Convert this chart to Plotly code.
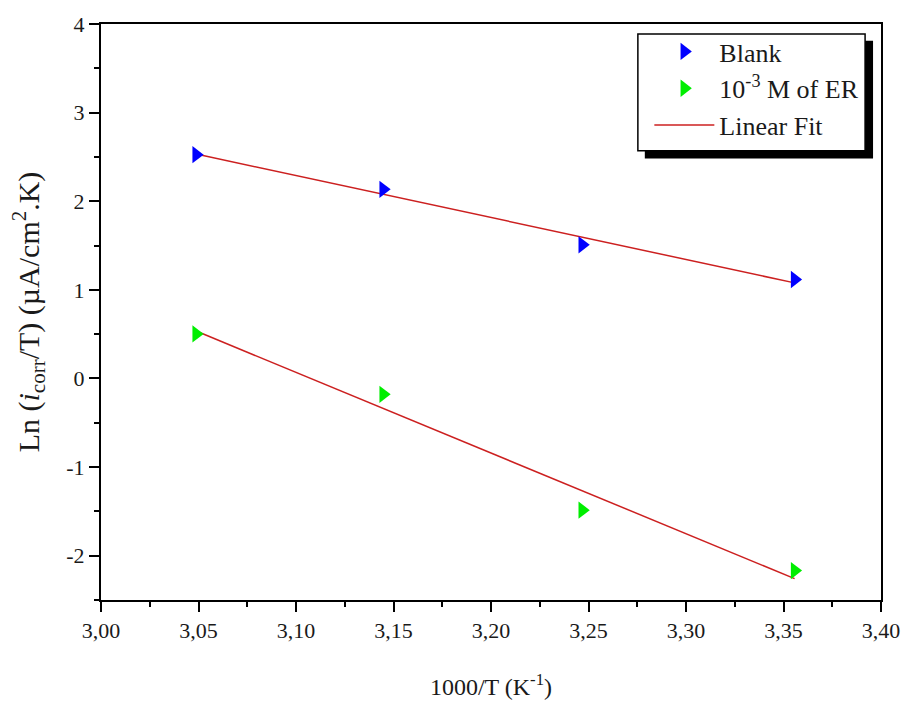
import numpy as np
import plotly.graph_objects as go

# data
x_vals = [3.0488, 3.1447, 3.2468, 3.3557]
blank_y = [2.525, 2.134, 1.508, 1.117]
er_y = [0.503, -0.179, -1.486, -2.168]
names = ["Blank", "10<sup>-3</sup> M of ER", "Linear Fit"]
y_ticks = [-2, -1, 0, 1, 2, 3, 4]
y_tick_text = ["-2", "-1", "0", "1", "2", "3", "4"]

xs = np.array(x_vals)
b_fit = np.polyfit(xs, blank_y, 1)
e_fit = np.polyfit(xs, er_y, 1)
xl = np.array([xs.min(), xs.max()])

FONT = "Liberation Serif"
TXT = "#1a1a1a"
fig = go.Figure()
fig.add_trace(go.Scatter(x=xl, y=np.polyval(b_fit, xl), mode="lines", name=names[2],
                         line=dict(color="#cc2020", width=1.5), legendrank=3))
fig.add_trace(go.Scatter(x=xl, y=np.polyval(e_fit, xl), mode="lines", name=names[2],
                         line=dict(color="#cc2020", width=1.5), showlegend=False))
fig.add_trace(go.Scatter(x=x_vals, y=blank_y, mode="markers", name=names[0],
                         marker=dict(symbol="triangle-right", size=15, color="#0000ff"),
                         legendrank=1))
fig.add_trace(go.Scatter(x=x_vals, y=er_y, mode="markers", name=names[1],
                         marker=dict(symbol="triangle-right", size=15, color="#00ee00"),
                         legendrank=2))

fig.update_xaxes(range=[3.0, 3.4], dtick=0.05, tick0=3.0, tickformat=".2f",
                 showline=True, linecolor="black", linewidth=2, mirror=True,
                 ticks="outside", ticklen=10, tickwidth=2, tickcolor="black",
                 showgrid=False, zeroline=False,
                 tickfont=dict(family=FONT, size=22, color=TXT),
                 minor=dict(dtick=0.025, ticks="outside", ticklen=5, tickwidth=2, tickcolor="black"),
                 title=dict(text="1000/T (K<sup>-1</sup>)", font=dict(family=FONT, size=24, color=TXT), standoff=36))
fig.update_yaxes(range=[-2.5, 4], tickvals=y_ticks, ticktext=y_tick_text,
                 showline=True, linecolor="black", linewidth=2, mirror=True,
                 ticks="outside", ticklen=10, tickwidth=2, tickcolor="black",
                 showgrid=False, zeroline=False,
                 tickfont=dict(family=FONT, size=22, color=TXT),
                 minor=dict(dtick=0.5, ticks="outside", ticklen=5, tickwidth=2, tickcolor="black"),
                 title=dict(text="Ln (<i>i</i><sub>corr</sub>/T) (µA/cm<sup>2</sup>.K)",
                            font=dict(family=FONT, size=30, color=TXT), standoff=18))

fig.update_layout(
    width=912, height=715, separators=",.",
    margin=dict(l=101, r=25, t=18, b=115),
    plot_bgcolor="white", paper_bgcolor="white",
    legend=dict(x=0.703, y=0.993, xanchor="left", yanchor="top",
                bgcolor="rgba(0,0,0,0)", borderwidth=0,
                font=dict(family=FONT, size=26, color=TXT), itemwidth=60,
                traceorder="normal"),
    shapes=[
        dict(type="rect", xref="paper", yref="paper", x0=0.6972, x1=0.9898, y0=0.7663, y1=0.9708,
             fillcolor="black", line=dict(width=0)),
        dict(type="rect", xref="paper", yref="paper", x0=0.6883, x1=0.9796, y0=0.7801, y1=0.9828,
             fillcolor="white", line=dict(color="black", width=1.5)),
    ],
)
fig.write_html("out.html")
